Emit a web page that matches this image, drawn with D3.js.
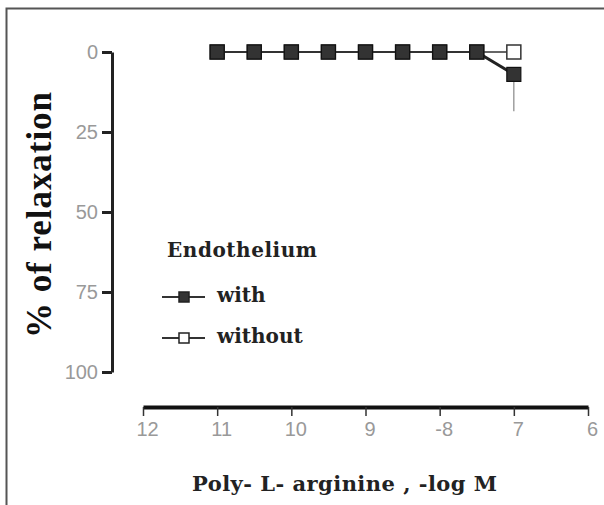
<!DOCTYPE html>
<html>
<head>
<meta charset="utf-8">
<script src="https://cdn.jsdelivr.net/npm/d3@7"></script>
<style>
  body { margin: 0; background: #fff; }
  svg { display: block; }
</style>
</head>
<body>
<div id="chart"></div>
<script>
// concentrations (log M) and responses
const logConc = [-11, -10.5, -10, -9.5, -9, -8.5, -8, -7.5, -7];
const withEndo = [0, 0, 0, 0, 0, 0, 0, 0, 7];
const withEndoSem = [0, 0, 0, 0, 0, 0, 0, 0, 11.5];
const withoutEndo = [0, 0, 0, 0, 0, 0, 0, 0, 0];

const xTicks = [-12, -11, -10, -9, -8, -7, -6];
const xTickLabels = ["12", "11", "10", "9", "-8", "7", "6"];
const yTicks = [0, 25, 50, 75, 100];

const legendNames = ["with", "without"];

const W = 604, H = 505;

const svg = d3.select('#chart')
    .append('svg')
    .attr('width', W)
    .attr('height', H);

// frame round the picture (only top and left visible)
svg.append('path')
    .attr('d', 'M6.5,' + H + 'V8.5H' + W)
    .attr('fill', 'none')
    .attr('stroke', '#555')
    .attr('stroke-width', 2);

const x = d3.scaleLinear().domain([-12, -6]).range([143, 588]);
const y = d3.scaleLinear().domain([0, 100]).range([52, 372]);

// y axis
const yAxis = svg.append('g')
    .attr('transform', 'translate(112,0)')
    .call(d3.axisLeft(y).tickValues(yTicks).tickSize(10).tickSizeOuter(0).tickPadding(4));

yAxis.select('.domain').attr('stroke', '#222').attr('stroke-width', 3);
yAxis.selectAll('.tick line').attr('stroke', '#222').attr('stroke-width', 3);
yAxis.selectAll('.tick text')
    .attr('fill', '#999')
    .style('font-family', '"Liberation Sans", Arial, sans-serif')
    .style('font-size', '20px');

// x axis
const xAxis = svg.append('g')
    .attr('transform', 'translate(0,407)')
    .call(d3.axisBottom(x).tickValues(xTicks)
        .tickFormat((d, i) => xTickLabels[i])
        .tickSize(9).tickSizeOuter(0).tickPadding(6));

xAxis.select('.domain').attr('stroke', '#111').attr('stroke-width', 4);
xAxis.selectAll('.tick line').attr('stroke', '#333').attr('stroke-width', 1.5);
xAxis.selectAll('.tick text')
    .attr('fill', '#999')
    .attr('dx', 4)
    .style('font-family', '"Liberation Sans", Arial, sans-serif')
    .style('font-size', '20px');

// series
const line = d3.line()
    .x(d => x(d[0]))
    .y(d => y(d[1]));

const withoutPts = logConc.map((c, i) => [c, withoutEndo[i]]);
const withPts = logConc.map((c, i) => [c, withEndo[i]]);

const SQ = 14;

svg.append('path')
    .datum(withoutPts)
    .attr('d', line)
    .attr('fill', 'none')
    .attr('stroke', '#333')
    .attr('stroke-width', 1.5);

svg.append('g')
    .selectAll('rect')
    .data(withoutPts)
    .enter().append('rect')
    .attr('x', d => x(d[0]) - SQ / 2)
    .attr('y', d => y(d[1]) - SQ / 2)
    .attr('width', SQ)
    .attr('height', SQ)
    .attr('fill', '#fff')
    .attr('stroke', '#333')
    .attr('stroke-width', 1.5);

// error bars, only downward part visible
svg.append('g')
    .selectAll('line')
    .data(logConc.map((c, i) => [c, withEndo[i], withEndoSem[i]]).filter(d => d[2] > 0))
    .enter().append('line')
    .attr('x1', d => x(d[0]))
    .attr('x2', d => x(d[0]))
    .attr('y1', d => y(d[1]))
    .attr('y2', d => y(d[1] + d[2]))
    .attr('stroke', '#888')
    .attr('stroke-width', 1.2);

svg.append('path')
    .datum(withPts)
    .attr('d', line)
    .attr('fill', 'none')
    .attr('stroke', '#222')
    .attr('stroke-width', 1.5);

// thicker drop segment at the last step
svg.append('path')
    .datum(withPts.slice(-2))
    .attr('d', line)
    .attr('fill', 'none')
    .attr('stroke', '#222')
    .attr('stroke-width', 3);

svg.append('g')
    .selectAll('rect')
    .data(withPts)
    .enter().append('rect')
    .attr('x', d => x(d[0]) - SQ / 2)
    .attr('y', d => y(d[1]) - SQ / 2)
    .attr('width', SQ)
    .attr('height', SQ)
    .attr('fill', '#333')
    .attr('stroke', '#111')
    .attr('stroke-width', 1.2);

// legend
const legend = svg.append('g');

legend.append('text')
    .attr('x', 167)
    .attr('y', 257)
    .attr('textLength', 150)
    .style('font-family', '"DejaVu Serif", serif')
    .style('font-weight', 'bold')
    .style('font-size', '20px')
    .attr('fill', '#222')
    .text('Endothelium');

const rows = legend.selectAll('.row')
    .data(legendNames)
    .enter().append('g')
    .attr('class', 'row')
    .attr('transform', (d, i) => 'translate(0,' + (297 + i * 41) + ')');

rows.append('line')
    .attr('x1', 162).attr('x2', 205)
    .attr('y1', 0).attr('y2', 0)
    .attr('stroke', '#333')
    .attr('stroke-width', 2);

rows.append('rect')
    .attr('x', 179).attr('y', -5)
    .attr('width', 10).attr('height', 10)
    .attr('fill', (d, i) => i === 0 ? '#333' : '#fff')
    .attr('stroke', '#222')
    .attr('stroke-width', 1.5);

rows.append('text')
    .attr('x', 217)
    .attr('y', 5)
    .style('font-family', '"DejaVu Serif", serif')
    .style('font-weight', 'bold')
    .style('font-size', '20px')
    .attr('fill', '#222')
    .text(d => d);

// axis titles
svg.append('text')
    .attr('transform', 'translate(51,215) rotate(-90)')
    .attr('text-anchor', 'middle')
    .attr('textLength', 246)
    .style('font-family', '"Liberation Serif", "Times New Roman", serif')
    .style('font-weight', 'bold')
    .style('font-size', '35px')
    .attr('fill', '#111')
    .text('% of relaxation');

svg.append('text')
    .attr('x', 192)
    .attr('y', 491)
    .attr('textLength', 305)
    .style('font-family', '"DejaVu Serif", serif')
    .style('font-weight', 'bold')
    .style('font-size', '21px')
    .attr('fill', '#222')
    .text('Poly- L- arginine , -log M');
</script>
</body>
</html>
